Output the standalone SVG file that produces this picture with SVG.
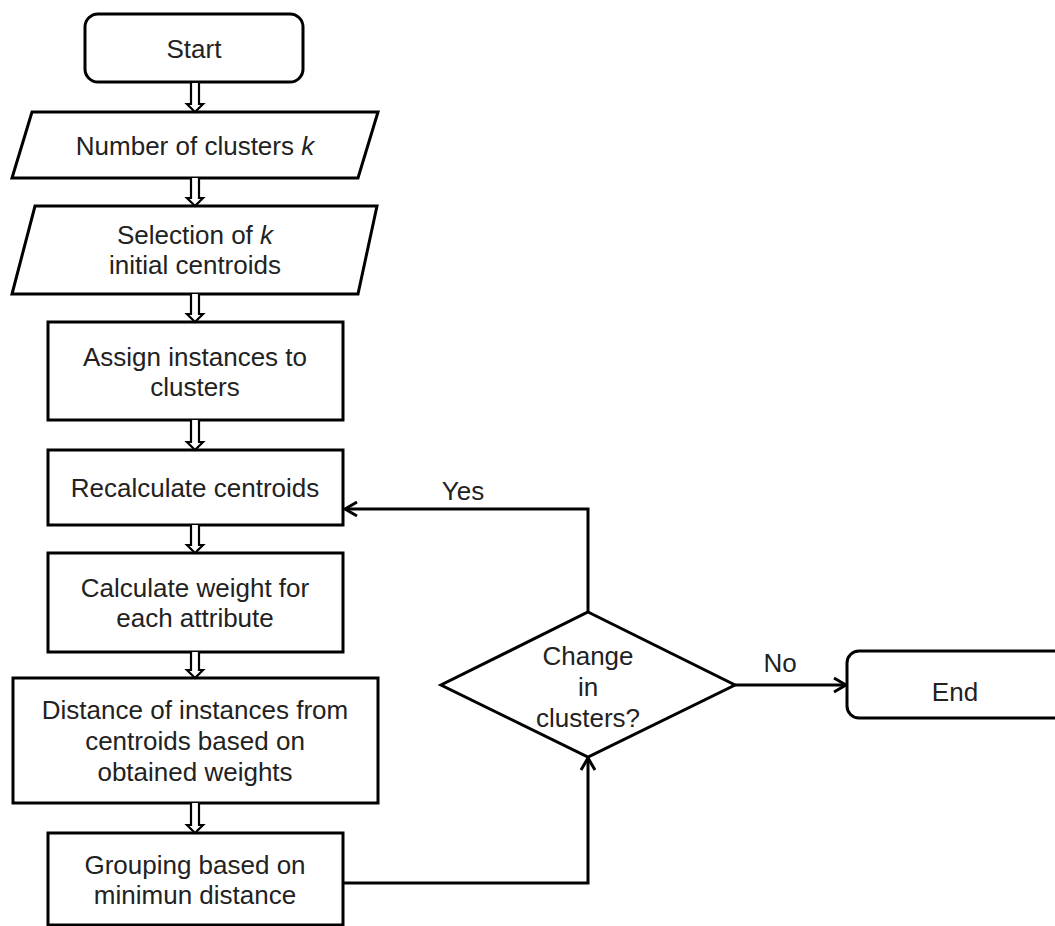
<svg xmlns="http://www.w3.org/2000/svg" width="1055" height="926" viewBox="0 0 1055 926">
<defs>
<style>
.box{fill:#fff;stroke:#000;stroke-width:3}
.t{font-family:"Liberation Sans",Arial,sans-serif;font-size:26px;fill:#222;text-anchor:middle}
.c{fill:none;stroke:#000;stroke-width:3}
.da{fill:#fff;stroke:#000;stroke-width:2.2;stroke-linejoin:miter}
</style>
<marker id="ah" viewBox="0 0 20 20" refX="18" refY="10" markerWidth="20" markerHeight="20" markerUnits="userSpaceOnUse" orient="auto">
<path d="M6,3 L18,10 L6,17" fill="none" stroke="#000" stroke-width="3"/>
</marker>
</defs>
<rect width="1055" height="926" fill="#fff"/>
<g id="start"><rect class="box" x="85" y="14" width="218" height="68" rx="13"/><text class="t" x="194" y="58">Start</text></g>
<g id="numclusters"><polygon class="box" points="32,112 378,112 358,178 12,178"/><text class="t" x="195" y="155">Number of clusters <tspan font-style="italic">k</tspan></text></g>
<g id="selection"><polygon class="box" points="35,206 377,206 358,294 12,294"/><text class="t" x="195" y="244">Selection of <tspan font-style="italic">k</tspan></text><text class="t" x="195" y="274">initial centroids</text></g>
<g id="assign"><rect class="box" x="48" y="322" width="295" height="98"/><text class="t" x="195" y="366">Assign instances to</text><text class="t" x="195" y="396">clusters</text></g>
<g id="recalc"><rect class="box" x="48" y="450" width="295" height="75"/><text class="t" x="195" y="497">Recalculate centroids</text></g>
<g id="weight"><rect class="box" x="48" y="553" width="295" height="99"/><text class="t" x="195" y="597">Calculate weight for</text><text class="t" x="195" y="627">each attribute</text></g>
<g id="distance"><rect class="box" x="13" y="678" width="365" height="125"/><text class="t" x="195" y="719">Distance of instances from</text><text class="t" x="195" y="750">centroids based on</text><text class="t" x="195" y="781">obtained weights</text></g>
<g id="grouping"><rect class="box" x="48" y="833" width="295" height="92"/><text class="t" x="195" y="874">Grouping based on</text><text class="t" x="195" y="904">minimun distance</text></g>
<g id="decision"><polygon class="box" points="588,612 735,685 588,757 441,685"/><text class="t" x="588" y="665">Change</text><text class="t" x="588" y="696">in</text><text class="t" x="588" y="727">clusters?</text></g>
<g id="end"><rect class="box" x="847" y="651" width="220" height="67" rx="12"/><text class="t" x="955" y="701">End</text></g>
<g id="connectors">
<path class="da" d="M191,83 V104 H187 L195,112 L203,104 H199 V83"/>
<path class="da" d="M191,178 V198 H187 L195,206 L203,198 H199 V178"/>
<path class="da" d="M191,294 V314 H187 L195,322 L203,314 H199 V294"/>
<path class="da" d="M191,420 V442 H187 L195,450 L203,442 H199 V420"/>
<path class="da" d="M191,525 V545 H187 L195,553 L203,545 H199 V525"/>
<path class="da" d="M191,652 V670 H187 L195,678 L203,670 H199 V652"/>
<path class="da" d="M191,803 V825 H187 L195,833 L203,825 H199 V803"/>
<path class="c" d="M588,612 V509 H345" marker-end="url(#ah)"/>
<path class="c" d="M343,883 H588 V758" marker-end="url(#ah)"/>
<path class="c" d="M735,685 H846" marker-end="url(#ah)"/>
<text class="t" x="463" y="500">Yes</text>
<text class="t" x="780" y="672">No</text>
</g>
</svg>
